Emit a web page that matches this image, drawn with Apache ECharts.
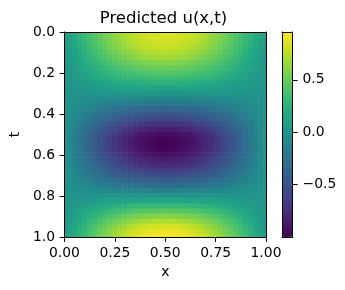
<!DOCTYPE html>
<html><head><meta charset="utf-8">
<script src="https://cdn.jsdelivr.net/npm/echarts@6/dist/echarts.min.js"></script>
<style>html,body{margin:0;padding:0;background:#fff}#c{width:345px;height:290px}</style>
</head><body><div id="c"></div>
<script>
// grid nodes (step 0.025)
const xValues = [0,.025,.05,.075,.1,.125,.15,.175,.2,.225,.25,.275,.3,.325,.35,.375,.4,.425,.45,.475,.5,.525,.55,.575,.6,.625,.65,.675,.7,.725,.75,.775,.8,.825,.85,.875,.9,.925,.95,.975,1];
const tValues = [0,.025,.05,.075,.1,.125,.15,.175,.2,.225,.25,.275,.3,.325,.35,.375,.4,.425,.45,.475,.5,.525,.55,.575,.6,.625,.65,.675,.7,.725,.75,.775,.8,.825,.85,.875,.9,.925,.95,.975,1];
// u(x,t): one row per t value, columns follow xValues
const uRows = [
[.08,.14,.20,.26,.32,.38,.43,.49,.54,.59,.63,.67,.71,.75,.78,.80,.82,.84,.85,.86,.86,.86,.85,.84,.82,.80,.78,.75,.71,.67,.63,.59,.54,.49,.43,.38,.32,.26,.20,.14,.08],
[.07,.13,.19,.25,.31,.37,.42,.48,.53,.57,.62,.66,.70,.73,.76,.79,.81,.83,.84,.85,.85,.85,.84,.83,.81,.79,.76,.73,.70,.66,.62,.57,.53,.48,.42,.37,.31,.25,.19,.13,.07],
[.05,.11,.17,.23,.29,.35,.40,.46,.51,.56,.60,.64,.68,.72,.75,.77,.79,.81,.82,.83,.83,.83,.82,.81,.79,.77,.75,.72,.68,.64,.60,.56,.51,.46,.40,.35,.29,.23,.17,.11,.05],
[.04,.09,.15,.21,.27,.32,.38,.43,.48,.53,.57,.61,.65,.68,.71,.73,.75,.77,.78,.79,.79,.79,.78,.77,.75,.73,.71,.68,.65,.61,.57,.53,.48,.43,.38,.32,.27,.21,.15,.09,.04],
[.02,.08,.13,.19,.24,.30,.35,.40,.44,.49,.53,.57,.60,.63,.66,.69,.70,.72,.73,.74,.74,.74,.73,.72,.70,.69,.66,.63,.60,.57,.53,.49,.44,.40,.35,.30,.24,.19,.13,.08,.02],
[.01,.06,.11,.17,.22,.27,.31,.36,.40,.45,.48,.52,.55,.58,.61,.63,.65,.66,.67,.68,.68,.68,.67,.66,.65,.63,.61,.58,.55,.52,.48,.45,.40,.36,.31,.27,.22,.17,.11,.06,.01],
[0,.05,.09,.14,.19,.23,.27,.31,.35,.39,.42,.46,.49,.51,.53,.55,.57,.58,.59,.60,.60,.60,.59,.58,.57,.55,.53,.51,.49,.46,.42,.39,.35,.31,.27,.23,.19,.14,.09,.05,0],
[0,.04,.08,.12,.16,.20,.24,.27,.31,.34,.37,.40,.42,.44,.46,.48,.49,.51,.51,.52,.52,.52,.51,.51,.49,.48,.46,.44,.42,.40,.37,.34,.31,.27,.24,.20,.16,.12,.08,.04,0],
[0,.03,.07,.10,.13,.16,.20,.22,.25,.28,.30,.33,.35,.37,.38,.40,.41,.42,.42,.43,.43,.43,.42,.42,.41,.40,.38,.37,.35,.33,.30,.28,.25,.22,.20,.16,.13,.10,.07,.03,0],
[0,.03,.05,.08,.11,.13,.15,.18,.20,.22,.24,.26,.28,.29,.30,.31,.32,.33,.34,.34,.34,.34,.34,.33,.32,.31,.30,.29,.28,.26,.24,.22,.20,.18,.15,.13,.11,.08,.05,.03,0],
[0,.02,.04,.06,.07,.09,.11,.13,.14,.16,.17,.18,.19,.20,.21,.22,.23,.23,.24,.24,.24,.24,.24,.23,.23,.22,.21,.20,.19,.18,.17,.16,.14,.13,.11,.09,.07,.06,.04,.02,0],
[0,.01,.02,.03,.04,.05,.06,.07,.08,.09,.10,.11,.11,.12,.12,.13,.13,.14,.14,.14,.14,.14,.14,.14,.13,.13,.12,.12,.11,.11,.10,.09,.08,.07,.06,.05,.04,.03,.02,.01,0],
[0,0,0,.01,.01,.01,.01,.02,.02,.02,.02,.02,.02,.03,.03,.03,.03,.03,.03,.03,.03,.03,.03,.03,.03,.03,.03,.03,.02,.02,.02,.02,.02,.02,.01,.01,.01,.01,0,0,0],
[0,-.01,-.02,-.02,-.03,-.04,-.05,-.05,-.06,-.06,-.07,-.08,-.08,-.09,-.09,-.09,-.10,-.10,-.10,-.10,-.10,-.10,-.10,-.10,-.10,-.09,-.09,-.09,-.08,-.08,-.07,-.06,-.06,-.05,-.05,-.04,-.03,-.02,-.02,-.01,0],
[0,-.02,-.04,-.05,-.07,-.09,-.10,-.12,-.14,-.15,-.16,-.17,-.19,-.20,-.20,-.21,-.22,-.22,-.23,-.23,-.23,-.23,-.23,-.22,-.22,-.21,-.20,-.20,-.19,-.17,-.16,-.15,-.14,-.12,-.10,-.09,-.07,-.05,-.04,-.02,0],
[0,-.03,-.06,-.08,-.11,-.14,-.16,-.19,-.21,-.23,-.25,-.27,-.29,-.31,-.32,-.33,-.34,-.35,-.36,-.36,-.36,-.36,-.36,-.35,-.34,-.33,-.32,-.31,-.29,-.27,-.25,-.23,-.21,-.19,-.16,-.14,-.11,-.08,-.06,-.03,0],
[0,-.04,-.08,-.11,-.15,-.18,-.22,-.25,-.28,-.31,-.34,-.37,-.39,-.41,-.43,-.44,-.46,-.47,-.47,-.48,-.48,-.48,-.47,-.47,-.46,-.44,-.43,-.41,-.39,-.37,-.34,-.31,-.28,-.25,-.22,-.18,-.15,-.11,-.08,-.04,0],
[0,-.05,-.10,-.14,-.19,-.23,-.28,-.32,-.36,-.40,-.43,-.46,-.49,-.52,-.54,-.56,-.58,-.59,-.60,-.61,-.61,-.61,-.60,-.59,-.58,-.56,-.54,-.52,-.49,-.46,-.43,-.40,-.36,-.32,-.28,-.23,-.19,-.14,-.10,-.05,0],
[0,-.06,-.11,-.17,-.22,-.28,-.33,-.38,-.42,-.47,-.51,-.55,-.58,-.61,-.64,-.67,-.68,-.70,-.71,-.72,-.72,-.72,-.71,-.70,-.68,-.67,-.64,-.61,-.58,-.55,-.51,-.47,-.42,-.38,-.33,-.28,-.22,-.17,-.11,-.06,0],
[0,-.07,-.13,-.20,-.26,-.32,-.38,-.44,-.49,-.55,-.59,-.64,-.68,-.72,-.75,-.78,-.80,-.82,-.83,-.84,-.84,-.84,-.83,-.82,-.80,-.78,-.75,-.72,-.68,-.64,-.59,-.55,-.49,-.44,-.38,-.32,-.26,-.20,-.13,-.07,0],
[0,-.07,-.15,-.22,-.29,-.36,-.43,-.49,-.55,-.61,-.66,-.71,-.76,-.80,-.84,-.87,-.89,-.91,-.93,-.94,-.94,-.94,-.93,-.91,-.89,-.87,-.84,-.80,-.76,-.71,-.66,-.61,-.55,-.49,-.43,-.36,-.29,-.22,-.15,-.07,0],
[0,-.08,-.15,-.23,-.31,-.38,-.45,-.52,-.58,-.64,-.70,-.75,-.80,-.84,-.88,-.91,-.94,-.96,-.98,-.99,-.99,-.99,-.98,-.96,-.94,-.91,-.88,-.84,-.80,-.75,-.70,-.64,-.58,-.52,-.45,-.38,-.31,-.23,-.15,-.08,0],
[0,-.08,-.16,-.23,-.31,-.38,-.45,-.52,-.59,-.65,-.71,-.76,-.81,-.85,-.89,-.92,-.95,-.97,-.99,-1,-1,-1,-.99,-.97,-.95,-.92,-.89,-.85,-.81,-.76,-.71,-.65,-.59,-.52,-.45,-.38,-.31,-.23,-.16,-.08,0],
[0,-.08,-.15,-.23,-.30,-.37,-.44,-.51,-.57,-.63,-.69,-.74,-.78,-.83,-.86,-.90,-.92,-.94,-.96,-.97,-.97,-.97,-.96,-.94,-.92,-.90,-.86,-.83,-.78,-.74,-.69,-.63,-.57,-.51,-.44,-.37,-.30,-.23,-.15,-.08,0],
[0,-.07,-.14,-.21,-.28,-.35,-.42,-.48,-.54,-.60,-.65,-.70,-.74,-.78,-.82,-.85,-.88,-.89,-.91,-.92,-.92,-.92,-.91,-.89,-.88,-.85,-.82,-.78,-.74,-.70,-.65,-.60,-.54,-.48,-.42,-.35,-.28,-.21,-.14,-.07,0],
[0,-.07,-.13,-.20,-.26,-.33,-.39,-.44,-.50,-.55,-.60,-.65,-.69,-.72,-.76,-.79,-.81,-.83,-.84,-.85,-.85,-.85,-.84,-.83,-.81,-.79,-.76,-.72,-.69,-.65,-.60,-.55,-.50,-.44,-.39,-.33,-.26,-.20,-.13,-.07,0],
[0,-.06,-.12,-.18,-.24,-.29,-.35,-.40,-.45,-.50,-.54,-.59,-.62,-.66,-.69,-.71,-.73,-.75,-.76,-.77,-.77,-.77,-.76,-.75,-.73,-.71,-.69,-.66,-.62,-.59,-.54,-.50,-.45,-.40,-.35,-.29,-.24,-.18,-.12,-.06,0],
[0,-.05,-.10,-.16,-.21,-.26,-.30,-.35,-.39,-.44,-.47,-.51,-.54,-.57,-.60,-.62,-.64,-.65,-.66,-.67,-.67,-.67,-.66,-.65,-.64,-.62,-.60,-.57,-.54,-.51,-.47,-.44,-.39,-.35,-.30,-.26,-.21,-.16,-.10,-.05,0],
[0,-.04,-.09,-.13,-.17,-.21,-.25,-.29,-.33,-.36,-.40,-.43,-.45,-.48,-.50,-.52,-.53,-.54,-.55,-.56,-.56,-.56,-.55,-.54,-.53,-.52,-.50,-.48,-.45,-.43,-.40,-.36,-.33,-.29,-.25,-.21,-.17,-.13,-.09,-.04,0],
[0,-.03,-.07,-.10,-.13,-.16,-.20,-.22,-.25,-.28,-.30,-.33,-.35,-.37,-.38,-.40,-.41,-.42,-.42,-.43,-.43,-.43,-.42,-.42,-.41,-.40,-.38,-.37,-.35,-.33,-.30,-.28,-.25,-.22,-.20,-.16,-.13,-.10,-.07,-.03,0],
[0,-.02,-.05,-.07,-.09,-.11,-.13,-.15,-.17,-.19,-.21,-.22,-.23,-.25,-.26,-.27,-.28,-.28,-.29,-.29,-.29,-.29,-.29,-.28,-.28,-.27,-.26,-.25,-.23,-.22,-.21,-.19,-.17,-.15,-.13,-.11,-.09,-.07,-.05,-.02,0],
[0,-.01,-.02,-.03,-.04,-.05,-.06,-.07,-.08,-.09,-.10,-.11,-.11,-.12,-.12,-.13,-.13,-.14,-.14,-.14,-.14,-.14,-.14,-.14,-.13,-.13,-.12,-.12,-.11,-.11,-.10,-.09,-.08,-.07,-.06,-.05,-.04,-.03,-.02,-.01,0],
[0,0,0,0,0,0,0,.01,.01,.01,.01,.01,.01,.01,.01,.01,.01,.01,.01,.01,.01,.01,.01,.01,.01,.01,.01,.01,.01,.01,.01,.01,.01,.01,0,0,0,0,0,0,0],
[0,.01,.03,.04,.05,.06,.07,.08,.09,.10,.11,.12,.13,.14,.14,.15,.15,.16,.16,.16,.16,.16,.16,.16,.15,.15,.14,.14,.13,.12,.11,.10,.09,.08,.07,.06,.05,.04,.03,.01,0],
[0,.02,.05,.07,.10,.12,.14,.16,.18,.20,.22,.24,.25,.26,.28,.29,.29,.30,.31,.31,.31,.31,.31,.30,.29,.29,.28,.26,.25,.24,.22,.20,.18,.16,.14,.12,.10,.07,.05,.02,0],
[0,.04,.07,.11,.14,.18,.21,.24,.27,.30,.33,.35,.37,.39,.41,.43,.44,.45,.45,.46,.46,.46,.45,.45,.44,.43,.41,.39,.37,.35,.33,.30,.27,.24,.21,.18,.14,.11,.07,.04,0],
[0,.05,.09,.14,.19,.23,.27,.31,.35,.39,.42,.46,.49,.51,.53,.55,.57,.58,.59,.60,.60,.60,.59,.58,.57,.55,.53,.51,.49,.46,.42,.39,.35,.31,.27,.23,.19,.14,.09,.05,0],
[.01,.07,.12,.18,.23,.29,.34,.39,.43,.48,.52,.56,.59,.62,.65,.68,.69,.71,.72,.73,.73,.73,.72,.71,.69,.68,.65,.62,.59,.56,.52,.48,.43,.39,.34,.29,.23,.18,.12,.07,.01],
[.02,.08,.15,.21,.27,.33,.39,.45,.50,.55,.60,.64,.68,.72,.75,.78,.80,.82,.83,.84,.84,.84,.83,.82,.80,.78,.75,.72,.68,.64,.60,.55,.50,.45,.39,.33,.27,.21,.15,.08,.02],
[.03,.10,.17,.24,.30,.37,.43,.49,.55,.60,.65,.70,.74,.78,.81,.84,.87,.89,.90,.91,.91,.91,.90,.89,.87,.84,.81,.78,.74,.70,.65,.60,.55,.49,.43,.37,.30,.24,.17,.10,.03],
[.04,.11,.18,.25,.32,.39,.45,.52,.57,.63,.68,.73,.78,.82,.85,.88,.91,.92,.94,.95,.95,.95,.94,.92,.91,.88,.85,.82,.78,.73,.68,.63,.57,.52,.45,.39,.32,.25,.18,.11,.04]
];
const xTicks = [0, 0.25, 0.5, 0.75, 1];
const tTicks = [0, 0.2, 0.4, 0.6, 0.8, 1];
const cbTicks = [-0.5, 0, 0.5];
const cbMin = -1.007, cbMax = 0.959;
const viridis = ['#440154','#482475','#414487','#355f8d','#2a788e','#21918c','#22a884','#44bf70','#7ad151','#bddf26','#fde725'];

const data = [];
tValues.forEach((t, i) => xValues.forEach((x, j) => {
  if (uRows[i] && uRows[i][j] !== undefined) data.push([x, t, uRows[i][j]]);
}));
const dx = xValues[1] - xValues[0], dt = tValues[1] - tValues[0];
const FONT = 'DejaVu Sans';
const txt = {fontFamily: FONT, fontSize: 13.9, color: '#000'};
const blackLine = {color: '#000', width: 1};

function renderItem(params, api) {
  const x = api.value(0), t = api.value(1);
  const p0 = api.coord([x - dx / 2, t - dt / 2]);
  const p1 = api.coord([x + dx / 2, t + dt / 2]);
  const cs = params.coordSys;
  const r = echarts.graphic.clipRectByRect({
    x: Math.min(p0[0], p1[0]) - 0.3, y: Math.min(p0[1], p1[1]) - 0.3,
    width: Math.abs(p1[0] - p0[0]) + 0.6, height: Math.abs(p1[1] - p0[1]) + 0.6
  }, {x: cs.x, y: cs.y, width: cs.width, height: cs.height});
  return r && {type: 'rect', shape: r, style: {fill: api.visual('color')}};
}
function frameAxis(grid, pos) {
  return {gridIndex: grid, type: 'value', position: pos, min: 0, max: 1, z: 5,
    axisLine: {show: true, onZero: false, lineStyle: blackLine}, axisTick: {show: false},
    axisLabel: {show: false}, splitLine: {show: false}};
}

const chart = echarts.init(document.getElementById('c'), null, {renderer: 'canvas'});
chart.setOption({
  animation: false,
  title: {text: 'Predicted u(x,t)', left: 163.5, top: 10, textAlign: 'center', padding: 0,
    textStyle: {fontFamily: FONT, fontSize: 16.5, fontWeight: 'normal', color: '#000'}},
  grid: [
    {left: 61, top: 32, width: 205, height: 205, show: false},
    {left: 282, top: 32, width: 10.7, height: 205, show: false}
  ],
  xAxis: [
    {gridIndex: 0, type: 'value', position: 'bottom', min: xTicks[0], max: xTicks[xTicks.length - 1], interval: xTicks[1] - xTicks[0], z: 5,
      name: 'x', nameLocation: 'middle', nameGap: 28.6, nameTextStyle: txt,
      axisLine: {show: true, onZero: false, lineStyle: blackLine},
      axisTick: {show: true, inside: false, length: 4.9, lineStyle: blackLine},
      axisLabel: Object.assign({margin: 9, showMinLabel: true, showMaxLabel: true, formatter: v => v.toFixed(2)}, txt),
      splitLine: {show: false}},
    frameAxis(0, 'top'),
    frameAxis(1, 'bottom'),
    frameAxis(1, 'top')
  ],
  yAxis: [
    {gridIndex: 0, type: 'value', position: 'left', inverse: true, min: tTicks[0], max: tTicks[tTicks.length - 1], interval: tTicks[1] - tTicks[0], z: 5,
      name: 't', nameLocation: 'middle', nameGap: 33, nameTextStyle: txt,
      axisLine: {show: true, onZero: false, lineStyle: blackLine},
      axisTick: {show: true, inside: false, length: 4.9, lineStyle: blackLine},
      axisLabel: Object.assign({margin: 9.5, showMinLabel: true, showMaxLabel: true, formatter: v => v.toFixed(1)}, txt),
      splitLine: {show: false}},
    frameAxis(0, 'right'),
    {gridIndex: 1, type: 'value', position: 'right', min: cbMin, max: cbMax, z: 5,
      axisLine: {show: true, onZero: false, lineStyle: blackLine},
      axisTick: {show: true, inside: false, length: 4.9, lineStyle: blackLine, customValues: cbTicks},
      axisLabel: Object.assign({margin: 9.8, customValues: cbTicks,
        formatter: v => (v < 0 ? '\u2212' + (-v).toFixed(1) : v.toFixed(1))}, txt),
      splitLine: {show: false}},
    frameAxis(1, 'left')
  ],
  visualMap: {type: 'continuous', min: cbMin, max: cbMax, dimension: 2, seriesIndex: 0,
    inRange: {color: viridis}, calculable: false, hoverLink: false, realtime: false,
    left: 282, top: 32, itemWidth: 10.7, itemHeight: 205, padding: 0, text: null},
  series: [{type: 'custom', xAxisIndex: 0, yAxisIndex: 0, data: data, encode: {x: 0, y: 1},
    renderItem: renderItem, silent: true, z: 2}]
});
</script></body></html>
